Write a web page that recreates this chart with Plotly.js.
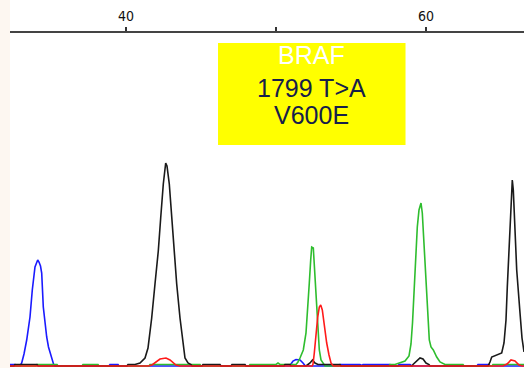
<!DOCTYPE html>
<html>
<head>
<meta charset="utf-8">
<script src="https://cdn.plot.ly/plotly-3.0.1.min.js"></script>
<style>html,body{margin:0;padding:0;background:#fff;}#chart{width:524px;height:368px;}</style>
</head>
<body>
<div id="chart"></div>
<script>
// Base-position tick marks and labels
const tickPositions = [40, 50, 60];
const tickLabels = ['40', '', '60'];

// Annotation text lines
const annotationLines = ['BRAF', '1799 T>A', 'V600E'];

// Trace C (blue)
const cX = [32.267,32.6,32.667,32.933,33.047,33.2,33.38,33.6,33.753,33.933,34.113,34.2,34.3,34.38,34.487,34.6,34.713,34.833,34.933,35.067,35.167,35.267,38.867,38.933,39.467,39.533,50.933,51.0,51.133,51.333,51.6,51.8,51.933,52.133,54.2,54.267,55.6,55.733,55.8,57.6,57.667,58.133,58.2,58.933,59.067,63.4,63.467,64.2,64.267,66.533];
const cY = [1.5,1.5,0,0,3,12,26,49,76,99,106,104,100,93,59,40,29,19,13,6,2,0,0,1.5,1.5,0,0,2,5,6.5,6,3,0.5,0,0,1.5,1.5,0.5,1.5,1.5,0,0,1.5,1.5,0,0,1.5,1.5,0,0];

// Trace A (green)
const aX = [32.267,34.0,34.067,35.4,35.467,37.067,37.133,38.133,38.2,41.533,41.6,44.933,45.0,48.2,48.267,50.0,50.133,50.267,51.333,51.467,51.6,51.82,52.0,52.133,52.22,52.313,52.38,52.487,52.553,52.667,52.78,52.887,53.0,53.153,53.267,57.533,57.6,57.933,58.267,58.6,58.867,59.0,59.1,59.22,59.333,59.42,59.533,59.667,59.753,59.887,60.0,60.087,60.22,60.333,60.487,60.713,60.933,61.267,62.467,62.533,64.4,64.467,66.533];
const aY = [0,0,1.5,1.5,0,0,1.5,1.5,0,0,1.5,1.5,0,0,1.5,1.5,3,1.5,1.5,4,8,16,33,59,83,106,119,118,99,69,39,16,6,2,0,0,1.5,1.5,3,5,10,22,43,76,109,139,156,163,153,116,83,49,26,19,16,9,4,1.5,1.5,0,0,1.5,1.5];

// Trace G (black)
const gX = [32.267,32.533,32.6,34.067,34.133,40.067,40.133,40.6,40.933,41.267,41.467,41.713,41.933,42.153,42.313,42.487,42.647,42.733,42.887,43.047,43.22,43.38,43.6,43.8,43.933,44.133,44.333,44.4,45.067,45.133,46.267,46.333,47.0,47.067,47.933,48.0,50.533,50.6,50.933,51.0,52.0,52.133,52.267,52.433,52.6,52.8,54.267,54.333,59.067,59.133,59.333,59.6,59.8,60.0,60.2,60.267,64.133,64.2,64.267,64.38,64.713,65.047,65.2,65.333,65.42,65.533,65.62,65.687,65.753,65.82,65.913,66.047,66.267,66.4,66.533];
const gY = [0,0,1.5,1.5,0,0,1.5,1.5,3,8,18,48,82,115,148,182,203,200,182,148,115,82,48,20,8,3,1.5,0,0,1.5,1.5,0,0,1.5,1.5,0,0,1.5,1.5,0,0,1.5,3,6,3,1.5,1.5,0,0,1.5,4,8,7,3,1.5,0,0,1.5,4,9,11,13,23,46,79,113,146,173,186,176,146,96,53,28,14];

// Trace T (red)
const tX = [32.267,41.467,41.733,41.933,42.267,42.667,42.933,43.333,43.6,52.42,52.467,52.553,52.667,52.78,52.887,52.98,53.087,53.22,53.38,53.533,53.667,53.82,65.133,65.4,65.667,65.933,66.2,66.4,66.533];
const tY = [0,0,1,3,7,8,6,1,0,0,2,13,33,49,59,61,56,39,23,11,3,0,0,2,6,5,1,0,0];

const lw = 1.6;
const traces = [
  {x: cX, y: cY, name: 'C', mode: 'lines', line: {color: '#1a1aff', width: lw}},
  {x: aX, y: aY, name: 'A', mode: 'lines', line: {color: '#2ebd2e', width: lw}},
  {x: gX, y: gY, name: 'G', mode: 'lines', line: {color: '#1a1a1a', width: lw}},
  {x: tX, y: tY, name: 'T', mode: 'lines', line: {color: '#ff1a1a', width: lw}}
];

const xr = [32.267, 66.533];
const font = 'Liberation Sans, Arial, sans-serif';
const narrowFont = 'Liberation Sans Narrow, Arial Narrow, DejaVu Sans Condensed, sans-serif';

const layout = {
  width: 524, height: 368,
  margin: {l: 10, r: 0, t: 33, b: 0, pad: 0},
  paper_bgcolor: '#ffffff',
  plot_bgcolor: '#ffffff',
  showlegend: false,
  xaxis: {
    range: xr, side: 'top', showgrid: false, zeroline: false,
    showline: true, linecolor: '#444444', linewidth: 2,
    tickmode: 'array', tickvals: tickPositions, ticktext: tickLabels,
    ticks: 'outside', ticklen: 4, tickwidth: 2, tickcolor: '#333333',
    ticklabelstandoff: 0,
    tickfont: {family: narrowFont, size: 14, color: '#111111'},
    fixedrange: true
  },
  xaxis2: {
    range: xr, overlaying: 'x', side: 'top', anchor: 'y', showgrid: false, zeroline: false,
    showline: false, showticklabels: false,
    tickmode: 'array', tickvals: tickPositions,
    ticks: 'inside', ticklen: 4, tickwidth: 2, tickcolor: '#333333'
  },
  yaxis: {range: [-2, 333], visible: false, fixedrange: true},
  shapes: [
    {type: 'rect', xref: 'paper', yref: 'paper', x0: -0.0195, x1: 0, y0: 0, y1: 1.0985,
     fillcolor: '#fdf7f1', line: {width: 0}, layer: 'below'},
    {type: 'rect', xref: 'paper', yref: 'paper', x0: 0.4047, x1: 0.7695, y0: 0.6657, y1: 0.9701,
     fillcolor: '#ffff00', line: {width: 0}, layer: 'above'}
  ],
  annotations: [
    {xref: 'paper', yref: 'paper', x: 0.5866, y: 0.9343, xanchor: 'center', yanchor: 'middle',
     text: annotationLines[0], showarrow: false, font: {family: font, size: 25, color: '#ffffff'}},
    {xref: 'paper', yref: 'paper', x: 0.5866, y: 0.8373, xanchor: 'center', yanchor: 'middle',
     text: annotationLines[1], showarrow: false, font: {family: font, size: 25, color: '#16204a'}},
    {xref: 'paper', yref: 'paper', x: 0.5866, y: 0.7552, xanchor: 'center', yanchor: 'middle',
     text: annotationLines[2], showarrow: false, font: {family: font, size: 25, color: '#16204a'}}
  ]
};

Plotly.newPlot('chart', traces, layout, {displayModeBar: false, staticPlot: true});
</script>
</body>
</html>
